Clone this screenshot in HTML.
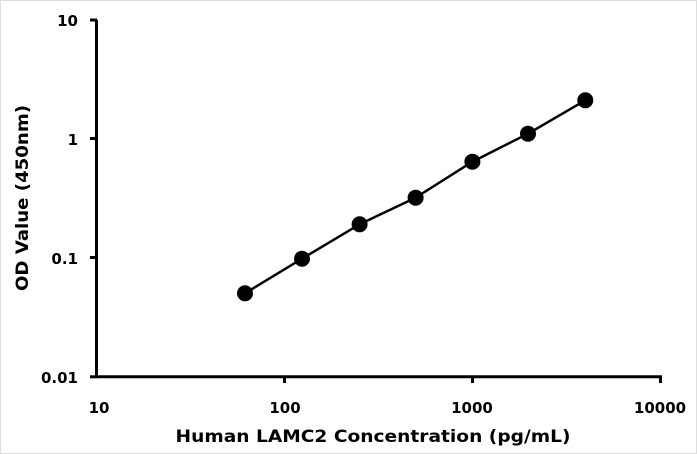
<!DOCTYPE html>
<html><head><meta charset="utf-8"><style>
html,body{margin:0;padding:0;background:#fff;}
svg{display:block;}
text{font-family:"DejaVu Sans","Liberation Sans",sans-serif;font-weight:bold;fill:#000;}
</style></head><body>
<svg width="697" height="454" viewBox="0 0 697 454" xmlns="http://www.w3.org/2000/svg">
<rect x="0.5" y="0.5" width="696" height="453" fill="#fff" stroke="#ddd"/>
<g stroke="#000" stroke-width="3" fill="none">
<line x1="96.5" y1="20" x2="96.5" y2="378"/>
<line x1="95" y1="376.8" x2="662" y2="376.8"/>
<line x1="90" y1="20" x2="97" y2="20"/>
<line x1="90" y1="138.5" x2="97" y2="138.5"/>
<line x1="90" y1="257.5" x2="97" y2="257.5"/>
<line x1="90" y1="376.8" x2="97" y2="376.8"/>
<line x1="284.5" y1="376" x2="284.5" y2="383"/>
<line x1="472.5" y1="376" x2="472.5" y2="383"/>
<line x1="660.5" y1="376" x2="660.5" y2="383"/>
</g>
<g font-size="15" text-anchor="end">
<text x="78" y="26">10</text>
<text x="78" y="145">1</text>
<text x="78" y="264">0.1</text>
<text x="78" y="383">0.01</text>
</g>
<g font-size="15" text-anchor="middle">
<text x="99" y="413">10</text>
<text x="285" y="413">100</text>
<text x="472" y="413">1000</text>
<text x="660" y="413">10000</text>
</g>
<text x="373" y="442" font-size="17" text-anchor="middle" textLength="395" lengthAdjust="spacingAndGlyphs">Human LAMC2 Concentration (pg/mL)</text>
<text transform="translate(28,198) rotate(-90)" font-size="17" text-anchor="middle" textLength="186" lengthAdjust="spacingAndGlyphs">OD Value (450nm)</text>
<polyline fill="none" stroke="#000" stroke-width="2.5" points="245,293.3 302,258.7 359.6,224.3 415.6,197.7 472.4,161.7 528,133.7 585.3,100.3"/>
<g fill="#000">
<circle cx="245" cy="293.3" r="8"/>
<circle cx="302" cy="258.7" r="8"/>
<circle cx="359.6" cy="224.3" r="8"/>
<circle cx="415.6" cy="197.7" r="8"/>
<circle cx="472.4" cy="161.7" r="8"/>
<circle cx="528" cy="133.7" r="8"/>
<circle cx="585.3" cy="100.3" r="8"/>
</g>
</svg>
</body></html>
